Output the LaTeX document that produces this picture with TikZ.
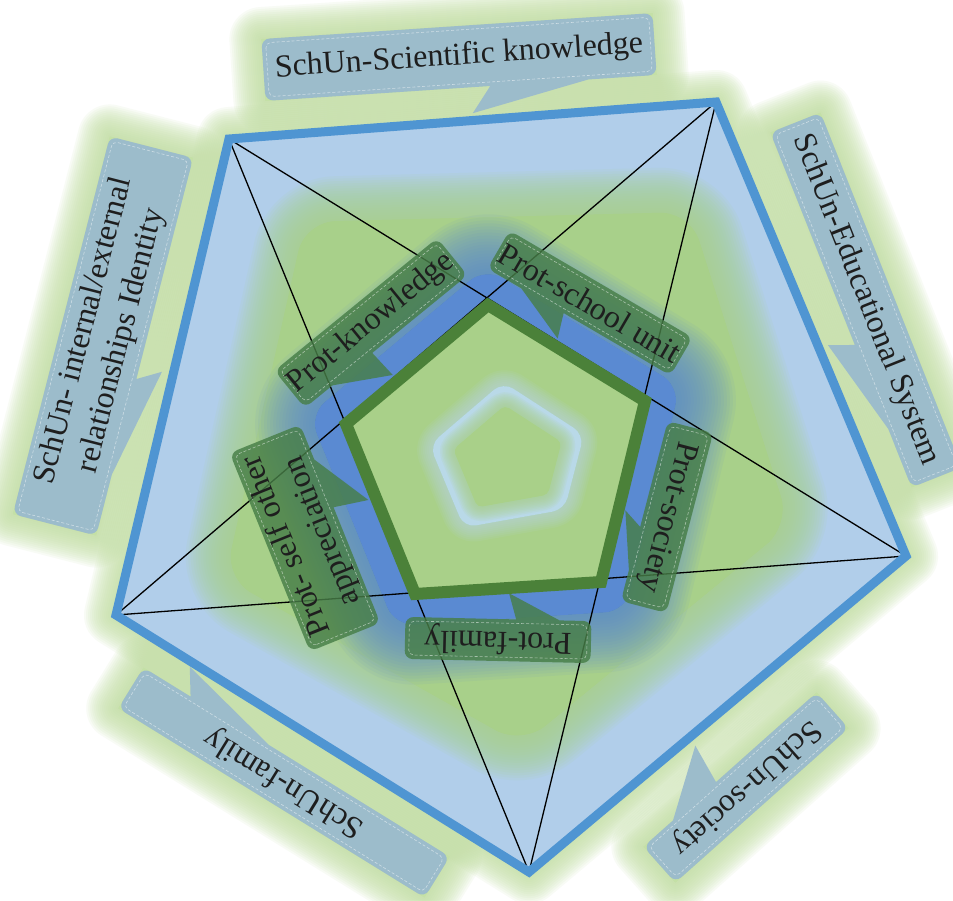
\documentclass[tikz,border=0pt]{standalone}
\usepackage{fontspec}
\setmainfont{Liberation Serif}
\usetikzlibrary{calc}
\pgfdeclarelayer{bg}
\pgfdeclarelayer{glow}
\pgfsetlayers{bg,glow,main}
\definecolor{glowc}{HTML}{C4E0A6}
\definecolor{pentfill}{HTML}{B1CEEA}
\definecolor{pentline}{HTML}{4F95D2}
\definecolor{blobc}{HTML}{A8D08A}
\definecolor{ringc}{HTML}{5A8AD2}
\definecolor{innerfill}{HTML}{A9D089}
\definecolor{innerline}{HTML}{4B8139}
\definecolor{lightring}{HTML}{B9D9E8}
\definecolor{schunc}{HTML}{9CBCCB}
\definecolor{protc}{HTML}{477E47}
\definecolor{txtc}{HTML}{1E1E1E}
\tikzset{
  calltext/.style={text=txtc, font=\fontsize{32}{39}\selectfont, align=center, inner sep=0pt},
  schunfill/.style={fill=schunc},
  protfill/.style={fill=protc, fill opacity=0.82},
  calldash/.style={draw=white, draw opacity=0.5, line width=0.6pt, dash pattern=on 3pt off 2pt},
  starline/.style={draw=black, line width=1.3pt},
  outerline/.style={draw=pentline, line width=9pt, line join=miter},
  innerstroke/.style={draw=innerline, line width=12pt, line join=miter},
}
\newcommand{\blurshape}[4]{%
  \fill[#1] #2;
  \foreach \w in {#3} {\draw[#1, opacity=#4, line width=\w pt, line join=round] #2;}%
}
\newcommand{\callcore}[7]{% name angle hl hw pointer style text
  \fill[#6, rounded corners=8pt] (-#3,-#4) rectangle (#3,#4) [sharp corners] #5;
  \draw[calldash, rounded corners=5pt] (-#3+4,-#4+4) rectangle (#3-4,#4-4);
  \node[calltext, rotate=#2] (#1) at (0,0) {#7};
}
\newcommand{\schun}[7]{% name center angle hl hw pointer text
  \begin{scope}[shift={#2}, rotate=#3]
    \begin{pgfonlayer}{glow}
      \fill[glowc] (-#4,-#5) rectangle (#4,#5);
      \foreach \w in {4,8,...,64} {\draw[glowc, opacity=0.11, line width=\w pt, line join=round] (-#4,-#5) rectangle (#4,#5);}
    \end{pgfonlayer}
    \callcore{#1}{#3}{#4}{#5}{#6}{schunfill}{#7}
  \end{scope}}
\newcommand{\prot}[7]{% name center angle hl hw pointer text
  \begin{scope}[shift={#2}, rotate=#3]
    \callcore{#1}{#3}{#4}{#5}{#6}{protfill}{#7}
  \end{scope}}
\begin{document}
\begin{tikzpicture}[x=1pt,y=-1pt]
\useasboundingbox (0,0) rectangle (953,900);
\begin{pgfonlayer}{bg}\fill[white] (0,0) rectangle (953,900);\end{pgfonlayer}
% outer pentagon vertices
\coordinate (TL) at (229,139);
\coordinate (TR) at (716,102);
\coordinate (R) at (906,556);
\coordinate (B) at (529,872);
\coordinate (L) at (116,615);
% inner pentagon vertices
\coordinate (P1) at (488,305);
\coordinate (P2) at (645,401);
\coordinate (P3) at (601,582);
\coordinate (P4) at (415,594);
\coordinate (P5) at (346,424);
\coordinate (IC) at (499,461);
% small pentagon
\coordinate (S1) at (505,408);
\coordinate (S2) at (559,443);
\coordinate (S3) at (546,493);
\coordinate (S4) at (479,505);
\coordinate (S5) at (456,450);
\coordinate (SC) at (509,460);
\def\outerpent{(TL) -- (TR) -- (R) -- (B) -- (L) -- cycle}
\def\innerpent{(P1) -- (P2) -- (P3) -- (P4) -- (P5) -- cycle}
% glow around the pentagon
\begin{pgfonlayer}{glow}
  \fill[glowc] \outerpent;
  \foreach \w in {4,8,...,64} {\draw[glowc, opacity=0.11, line width=\w pt, line join=round] \outerpent;}
\end{pgfonlayer}
% outer pentagon fill
\fill[pentfill] \outerpent;
% blurred green blob
\blurshape{blobc, rounded corners=30pt}{(305,222) -- (690,212) -- (790,525) -- (522,745) -- (225,578) -- cycle}{5,10,...,90}{0.09}
% blurred blue ring
\blurshape{ringc, rounded corners=20pt}{($(IC)!1.24!(P1)$) -- ($(IC)!1.24!(P2)$) -- ($(IC)!1.24!(P3)$) -- ($(IC)!1.24!(P4)$) -- ($(IC)!1.24!(P5)$) -- cycle}{6,12,...,120}{0.075}
% inner pentagon fill
\fill[innerfill] \innerpent;
% light ring and small pentagon
\blurshape{lightring, rounded corners=12pt}{($(SC)!1.5!(S1)$) -- ($(SC)!1.5!(S2)$) -- ($(SC)!1.5!(S3)$) -- ($(SC)!1.5!(S4)$) -- ($(SC)!1.5!(S5)$) -- cycle}{4,8,...,32}{0.1}
\blurshape{innerfill, rounded corners=5pt}{($(SC)!1.05!(S1)$) -- ($(SC)!1.05!(S2)$) -- ($(SC)!1.05!(S3)$) -- ($(SC)!1.05!(S4)$) -- ($(SC)!1.05!(S5)$) -- cycle}{3,6,...,30}{0.12}
% pentagram
\draw[starline] (TL) -- (R);
\draw[starline] (TL) -- (B);
\draw[starline] (TR) -- (L);
\draw[starline] (TR) -- (B);
\draw[starline] (L) -- (R);
% strokes
\draw[outerline] \outerpent;
\draw[innerstroke] \innerpent;
% Prot callouts
\prot{know}{(371,323)}{39.2}{105}{24}{(-71,23) -- (-16,54) -- (-18,23) -- cycle}{Prot-knowledge}
\prot{school}{(590,303)}{-30.3}{106}{22}{(-69,21) -- (-10,47) -- (-18,21) -- cycle}{Prot-school unit}
\prot{psociety}{(667,517)}{-104.6}{93}{23.5}{(17,22.5) -- (4,42) -- (64,22.5) -- cycle}{Prot-society}
\prot{pfamily}{(498,640)}{178.7}{93}{21}{(-63,20) -- (-10,47) -- (-18,20) -- cycle}{Prot-family}
\prot{pself}{(305,538)}{112}{107}{38}{(18,37) -- (11.5,73) -- (71,37) -- cycle}{Prot- self other\\appreciation}
% SchUn callouts
\schun{sci}{(459,57)}{3.8}{196}{31}{(30,30) -- (10,57) -- (132,30) -- cycle}{SchUn-Scientific knowledge}
\schun{edu}{(866,300)}{-68.3}{191}{27}{(38,26) -- (28,52) -- (132,26) -- cycle}{SchUn-Educational System}
\schun{ident}{(103,336)}{75.6}{195}{43}{(-137,42) -- (-20,66) -- (-34,42) -- cycle}{SchUn- internal/external\\relationships Identity}
\schun{sfamily}{(284,782.5)}{148.3}{180}{24}{(28,23) -- (141,49) -- (124,23) -- cycle}{SchUn-family}
\schun{ssociety}{(746,787.5)}{-138.3}{116}{24}{(19,23) -- (10,65) -- (78,23) -- cycle}{SchUn-society}
\end{tikzpicture}
\end{document}
